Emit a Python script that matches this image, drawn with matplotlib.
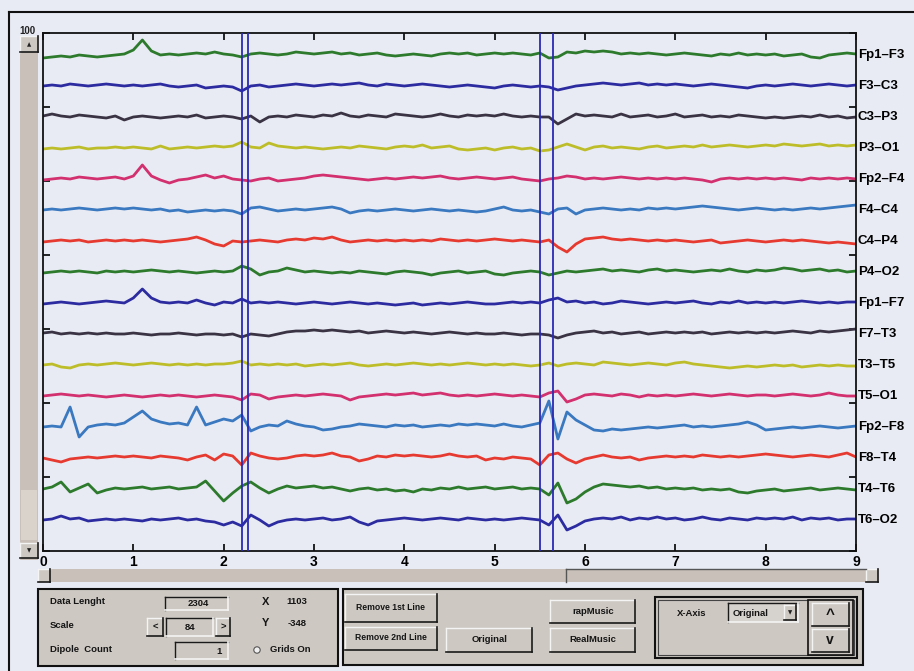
import matplotlib
matplotlib.use("Agg")
import matplotlib.pyplot as plt
import matplotlib.patches as mpatches
import numpy as np

# channel names, top to bottom
channels = ["Fp1–F3", "F3–C3", "C3–P3", "P3–O1", "Fp2–F4", "F4–C4", "C4–P4", "P4–O2",
            "Fp1–F7", "F7–T3", "T3–T5", "T5–O1", "Fp2–F8", "F8–T4", "T4–T6", "T6–O2"]

# trace values every 0.1 s (0..9 s), offset from each channel's baseline
fp1_f3 = [-3, -2, -1, -2, 0, -1, -2, -1, 0, 1, 5, 15, 4, 0, 1, 0, 1, 2, 1, 3,
          1, 0, -2, 1, 2, 1, 0, 1, 3, 2, 1, 2, 3, 1, 2, 0, 1, 2, 0, -1,
          0, 1, 0, -1, 1, 2, 1, 2, 0, 1, 2, 1, 2, 1, 0, 2, -3, -2, 3, 2,
          4, 3, 4, 3, 1, 2, 1, 2, 1, 0, 1, 2, 1, 0, -1, 1, 0, 2, 0, 1,
          0, 1, -1, 0, 1, -2, -3, 0, 1, 2, 1]
f3_c3 = [0, 1, 0, 2, 1, 0, 1, 2, 1, 0, 1, 0, 1, 2, 0, -1, 0, 1, -2, -1,
         0, -1, -5, 0, 1, -1, 0, 1, 2, 1, 0, 1, 2, 1, 2, 3, 1, 0, 2, 1,
         0, 1, 2, 1, 0, -1, 0, 1, 0, -1, -2, 0, 1, 0, -1, 0, -1, -4, -2, 0,
         1, 2, 3, 2, 1, 2, 3, 1, 2, 1, 2, 1, 0, 1, 2, 1, 0, -1, -2, 0,
         1, 0, 1, 2, 1, 0, 1, 2, 1, 0, 1]
c3_p3 = [1, 3, 1, 0, 2, 1, 0, -1, 1, -3, 0, 1, 0, -1, 0, 1, 0, 2, -1, 0,
         1, 0, -2, 1, -5, 0, 1, 0, 2, 1, 0, 2, 1, 4, 1, 0, 2, 1, 0, 3,
         2, 1, 0, 1, 3, 1, 0, 2, 1, 2, 1, 3, 1, 0, 1, 0, 0, -7, -2, 3,
         1, 2, 1, 0, 3, 0, 1, 2, 0, 1, 3, 0, 1, 2, 0, 1, 0, 2, 1, 0,
         -1, 0, -1, 0, 1, 0, 2, 0, 1, -1, 0]
p3_o1 = [-1, 0, -1, 0, 1, -1, 0, 0, 1, 0, 1, 0, -1, 2, -1, 0, 1, 0, 1, 2,
         1, 2, 6, 1, 0, 5, 2, 1, 0, 1, 0, -1, 0, 1, 0, 2, 1, 0, -1, 1,
         2, 1, 3, 0, 1, 2, -1, -2, -1, 0, -2, 0, 1, -1, 0, -3, -2, 1, 4, 1,
         -2, 1, 2, 0, 1, 0, -1, 1, 2, 0, 1, 2, 1, 3, 1, 2, 3, 2, 1, 2,
         3, 2, 4, 3, 2, 3, 4, 2, 3, 2, 3]
fp2_f4 = [-1, 0, 1, 0, 2, 1, 0, 1, 2, 0, 3, 14, 3, -1, -4, -1, 0, 2, 4, 1,
          3, 0, -1, -2, 0, 1, -2, -1, 0, 1, 3, 4, 3, 2, 1, 0, -1, 0, 1, 0,
          1, 2, 1, 2, 3, 1, 0, 1, 2, 1, 0, 1, 2, 0, -1, -2, 0, 1, 3, 2,
          0, 1, 0, 1, 2, 1, 0, 1, 0, 1, 0, 1, 0, -1, -3, 0, 1, 0, 1, 0,
          1, 0, 1, 0, -1, 1, 0, 1, 0, 1, 0]
f4_c4 = [0, 1, 0, 1, 2, 1, 0, 1, 2, 1, 2, 1, 0, 1, -1, 0, -2, -1, 0, -1,
         0, -1, -4, 2, 3, 1, -1, 0, 1, 0, 1, 2, 3, 1, -3, -1, 0, -1, 0, 1,
         0, -1, 0, 1, 0, -1, 0, -1, -2, -1, 1, 3, 0, -1, 0, -2, -4, 1, 2, -4,
         0, 1, 2, 1, 0, 1, 0, 2, 1, 2, 1, 2, 3, 4, 3, 2, 1, 0, 1, 2,
         1, 0, 1, 0, 1, 2, 1, 2, 3, 4, 5]
c4_p4 = [-1, 0, 1, 0, 1, -1, 0, 1, 0, 1, 0, 1, 0, -1, 0, 1, 2, 4, 1, -3,
         -5, 0, -1, 0, 1, 0, -1, 1, 2, 1, 3, 2, 4, 1, -1, 0, 1, 0, 1, 0,
         1, 0, 1, 0, 2, 1, 0, 1, 0, 1, 2, 1, 0, 1, 0, -1, 1, -6, -11, -3,
         2, 3, 4, 2, 1, 2, 1, 0, 1, 0, 1, 0, -1, 0, 1, -2, -1, 0, 1, 0,
         -1, 0, 1, 0, 1, 0, -1, -2, -1, -2, -3]
p4_o2 = [-1, 0, 1, 0, 1, 0, -1, 1, 0, 1, 0, 1, 2, 1, 0, 1, 0, -1, 0, 1,
         0, 1, 6, 3, -3, 0, 1, 4, 2, 0, 1, 0, -1, 0, -1, 1, 0, -1, -2, 0,
         1, 0, -1, -3, -1, 0, 1, -1, 0, 1, -2, -3, -1, 0, 1, 0, -3, -1, 1, 0,
         1, 2, 3, 1, 2, 1, 0, 2, 3, 1, 2, 1, 0, 1, 2, 1, 3, 1, 0, 2,
         1, 2, 4, 3, 1, 2, 3, 1, 2, 0, 1]
fp1_f7 = [-1, 0, 1, 0, -1, 0, 1, 2, 1, 0, 5, 14, 5, 1, 0, 1, 0, 3, 0, -2,
          1, 0, 4, 0, 1, 0, 1, 0, -1, 0, 1, 0, -1, 0, 1, 0, -1, 0, -1, -2,
          -1, 0, -2, -1, 0, -1, 0, 1, 0, -1, -1, 0, 1, 0, 1, 0, 3, 5, 1, 2,
          0, 1, -1, 0, 2, 1, 0, -1, 0, 1, 0, 1, 2, 0, -1, 1, 0, 2, 0, 1,
          0, 1, 0, 1, 2, 1, 0, 1, 0, 1, 1]
f7_t3 = [1, 2, 0, 1, 0, 1, 0, 1, 0, 0, 1, 0, -1, 0, 0, 1, 0, -1, 0, 0,
         -1, 0, -3, 0, -1, -2, 0, 2, 3, 3, 4, 3, 4, 3, 2, 3, 1, 2, 3, 2,
         1, 2, 1, 0, 1, 2, 1, 0, 1, 0, 0, 1, 0, -1, 0, 0, -1, -4, -1, 1,
         2, 3, 1, 2, 0, 1, 2, 0, 1, 2, 1, 2, 1, 2, 0, 1, 2, 1, 2, 1,
         2, 1, 2, 3, 2, 1, 3, 2, 3, 4, 5]
t3_t5 = [0, 1, -2, -3, 0, 1, 0, 1, 2, 1, 0, 1, 2, 1, 0, 1, 0, 1, 0, 1,
         1, 2, 4, 0, 1, 0, 1, 0, 1, -1, 0, 1, 0, 1, 2, 0, -1, 0, 1, 0,
         1, 2, 1, 0, 1, 0, 1, 2, 1, 0, 1, 0, 1, 0, -1, 0, 2, -1, 1, 2,
         1, 0, 3, 2, 1, 0, 1, 2, 1, 0, 2, 3, 1, 0, -1, -2, -3, -2, -1, -2,
         -1, 0, -1, 0, -2, -1, 0, -1, 0, -1, -1]
t5_o1 = [0, 1, 2, 1, 0, 1, 0, -1, 0, 1, 0, -1, 0, 1, 0, 1, 0, -1, 0, 1,
         0, -1, -4, 2, 1, -3, -1, 0, 1, 0, 1, 2, 1, 0, -4, -1, 0, 1, 2, 1,
         2, 3, 1, 2, 3, 1, 0, 1, 0, 1, 2, 1, 0, 1, 0, -1, 3, 5, -6, -3,
         1, 2, 1, 0, 2, 1, -1, 1, 0, 1, 0, 1, 2, 1, 0, 1, 2, 1, 0, 1,
         1, 0, 1, 2, 1, 0, 1, 3, 1, 0, 0]
fp2_f8 = [0, 1, 0, 20, -10, 0, 2, 3, 2, 4, 10, 16, 8, 5, 3, 4, 2, 20, 2, 5,
          8, 6, 12, -4, 0, 2, 1, 6, 3, 1, 0, -3, -2, 0, 1, 3, 2, 1, 0, 2,
          1, 2, 0, 1, 2, 1, 3, 2, 3, 2, 1, 3, 1, 0, 2, 4, 26, -12, 15, 7,
          2, -3, -4, -2, -3, -2, -1, 0, -1, 0, 1, 2, 0, 1, 0, 1, 2, 3, 5, 2,
          -3, -2, -1, 0, -1, 0, 1, 0, -1, 0, 1]
f8_t4 = [0, -2, -4, -1, 0, 1, 0, 1, 2, 1, 2, 1, 0, 2, 1, 0, -2, 1, 3, -2,
         4, 2, -7, 5, 2, 0, -1, 0, 2, 3, 2, 3, 5, 2, 1, -3, -1, 2, 1, 3,
         2, 3, 2, 1, 2, 4, 2, 1, 2, -2, 0, -1, 1, 0, -1, -7, 3, 5, -1, -5,
         -1, 1, 3, 1, 0, 1, -2, 0, 1, 2, 1, 2, 1, 3, 2, 1, 2, 1, 2, 3,
         4, 3, 2, 1, 2, 3, 2, 1, 3, 5, 1]
t4_t6 = [0, 2, 7, -3, 1, 5, -4, -1, 1, 0, 1, 2, 0, 1, 2, 0, 1, 2, 8, -2,
         -12, -4, 3, 7, 1, -4, 0, 3, 1, 2, 3, 1, 2, 0, -2, 0, 1, -1, 0, -2,
         -1, -3, 0, -1, 1, 0, 2, 0, 1, 2, 0, 1, 2, 0, 1, 0, -6, 6, -14, -10,
         -3, 2, 5, 4, 3, 2, 3, 1, 2, 0, 1, 0, 1, -1, 0, -1, 0, -3, -4, -2,
         -1, 0, -2, -1, 0, 1, -1, 0, 1, 0, -1]
t6_o2 = [0, 1, 4, 1, 2, -1, 0, 1, 0, 1, 0, -1, 1, 0, 1, 2, 0, 1, -1, -2,
         -5, -2, -6, 5, 0, -6, -2, 0, 1, 0, 1, 2, 0, 1, 3, -2, -5, -1, 0, 1,
         2, 1, 0, 1, 2, 1, 0, 2, 1, 0, 1, 0, 1, 2, 1, 0, -5, 5, -10, -6,
         -1, 1, 2, 1, 3, 0, 2, 1, 3, 1, 2, 0, 1, 3, 1, 0, 2, 1, 0, 2,
         1, 2, 1, 3, 0, 2, 1, 2, 0, 1, 1]

traces = [fp1_f3, f3_c3, c3_p3, p3_o1, fp2_f4, f4_c4, c4_p4, p4_o2,
          fp1_f7, f7_t3, t3_t5, t5_o1, fp2_f8, f8_t4, t4_t6, t6_o2]

# cursor line positions (s)
cursors = [2.20, 2.27, 5.50, 5.65]

palette = ['#2d7a2d', '#2c2ca0', '#3a3344', '#bdbd2a', '#d2306e', '#3a78c0', '#e63a30']
colors_ = [palette[i % 7] for i in range(len(channels))]

BG = '#e8ebf4'
GREY = '#cdc8c2'
FONT = 'Liberation Sans'

fig = plt.figure(figsize=(9.14, 6.71), dpi=100, facecolor=BG)

# ---- window furniture, in pixel coordinates ----
bg = fig.add_axes([0, 0, 1, 1], zorder=0)
bg.set_xlim(0, 914)
bg.set_ylim(671, 0)
bg.axis('off')
bg.set_facecolor(BG)


def rect(x0, y0, x1, y1, fc=GREY, ec='none', lw=1.0):
    bg.add_patch(mpatches.Rectangle((x0, y0), x1 - x0, y1 - y0, fc=fc, ec=ec, lw=lw))


def bevel(x0, y0, x1, y1, sunken=False, fc=GREY):
    rect(x0, y0, x1, y1, fc=fc)
    hi, lo = ('#f4f4f4', '#1a1a1a') if not sunken else ('#1a1a1a', '#f4f4f4')
    bg.plot([x0, x1], [y0, y0], color=hi, lw=1)
    bg.plot([x0, x0], [y0, y1], color=hi, lw=1)
    bg.plot([x0, x1], [y1, y1], color=lo, lw=1.2)
    bg.plot([x1, x1], [y0, y1], color=lo, lw=1.2)


def label(x, y, s, ha='left', size=6.8):
    bg.text(x, y, s, ha=ha, va='center', fontsize=size, fontweight='bold',
            family=FONT, color='#151515')


# outer frame
bg.plot([9, 914], [12, 12], color='#111111', lw=1.5)
bg.plot([9, 9], [12, 671], color='#111111', lw=1.5)

# vertical scroll bar
rect(20, 36, 38, 560, fc='#c9c1b9')
rect(21, 490, 37, 540, fc='#d9d3cc')
bevel(20, 36, 38, 52)
bevel(20, 543, 38, 558)
bg.text(29, 45, '▲', ha='center', va='center', fontsize=4, color='#222222')
bg.text(29, 551, '▼', ha='center', va='center', fontsize=4, color='#222222')
bg.text(27, 31, '100', ha='center', va='center', fontsize=7, fontweight='bold',
        family=FONT, color='#222222')

# horizontal scroll bar
rect(38, 569, 878, 582, fc='#c9c1b9')
bevel(38, 569, 50, 582)
bevel(866, 569, 878, 582)
bg.plot([566, 566], [569, 582], color='#555555', lw=1)
bg.plot([566, 866], [569, 569], color='#555555', lw=1)

# left panel
rect(38, 589, 338, 666, fc=GREY, ec='#111111', lw=1.5)
label(50, 602, 'Data Lenght')
label(50, 625, 'Scale')
label(50, 650, 'Dipole  Count')
bevel(165, 597, 228, 610, sunken=True)
label(198, 604, '2304', ha='center')
bevel(147, 618, 163, 636)
label(155, 627, '<', ha='center')
bevel(166, 618, 213, 636, sunken=True)
label(190, 627, '84', ha='center')
bevel(216, 618, 230, 636)
label(223, 627, '>', ha='center')
bevel(175, 642, 228, 659, sunken=True)
label(222, 651, '1', ha='right')
label(262, 602, 'X', size=8)
label(307, 601, '1103', ha='right')
label(262, 623, 'Y', size=8)
label(307, 623, '-348', ha='right')
bg.add_patch(mpatches.Circle((257, 650), 3.2, fc='#f0f0f0', ec='#555555', lw=0.8))
label(270, 650, 'Grids On')

# right panel
rect(343, 589, 863, 665, fc=GREY, ec='#111111', lw=1.5)
bevel(345, 594, 437, 622)
label(391, 608, 'Remove 1st Line', ha='center', size=6.2)
bevel(345, 627, 437, 650)
label(391, 638, 'Remove 2nd Line', ha='center', size=6.2)
bevel(446, 628, 532, 652)
label(490, 640, 'Original', ha='center')
bevel(550, 600, 635, 623)
label(593, 612, 'rapMusic', ha='center')
bevel(550, 628, 635, 652)
label(593, 640, 'RealMusic', ha='center')
rect(655, 597, 857, 658, fc=GREY, ec='#111111', lw=1.5)
rect(658, 600, 854, 655, fc='none', ec='#444444', lw=0.8)
label(692, 614, 'X-Axis', ha='center')
bevel(728, 603, 798, 622, sunken=True, fc='#d6d2cd')
label(733, 613, 'Original')
bevel(784, 605, 796, 620)
bg.text(790, 613, '▼', ha='center', va='center', fontsize=4, color='#222222')
rect(808, 600, 853, 655, fc=GREY, ec='#111111', lw=1.2)
bevel(812, 603, 849, 626)
bevel(812, 629, 849, 652)
label(830, 615, '^', ha='center', size=11)
label(830, 640, 'v', ha='center', size=10)

# ---- EEG axes ----
n = len(channels)
ax = fig.add_axes([43 / 914, 120 / 671, 813 / 914, 518 / 671], zorder=2)
ax.set_facecolor(BG)
ytop = 518 / 31
px = 1 / 31  # one channel spacing is 31 px

for i, (vals, col) in enumerate(zip(traces, colors_)):
    t = np.linspace(0, 9, len(vals))
    ax.plot(t, (n - i) + np.array(vals) * px, color=col, lw=2.0, solid_joinstyle='round')
    ax.text(9.02, n - i, channels[i], ha='left', va='center', fontsize=9.5,
            fontweight='bold', family=FONT, clip_on=False)

for c in cursors:
    ax.axvline(c, color='#2a2ab4', lw=1.3, zorder=5)

ax.set_xlim(0, 9)
ax.set_ylim(0, ytop)
ax.set_xticks(range(10))
ax.set_xticklabels([str(k) for k in range(10)], fontsize=10, fontweight='bold', family=FONT)
ax.set_yticks(np.linspace(0, ytop, 8))
ax.set_yticklabels([])
ax.tick_params(direction='in', top=True, right=True, length=5, width=1.2, pad=3)
for s in ax.spines.values():
    s.set_linewidth(1.3)
    s.set_color('#111111')

fig.savefig('out.png', dpi=100, facecolor=BG)
